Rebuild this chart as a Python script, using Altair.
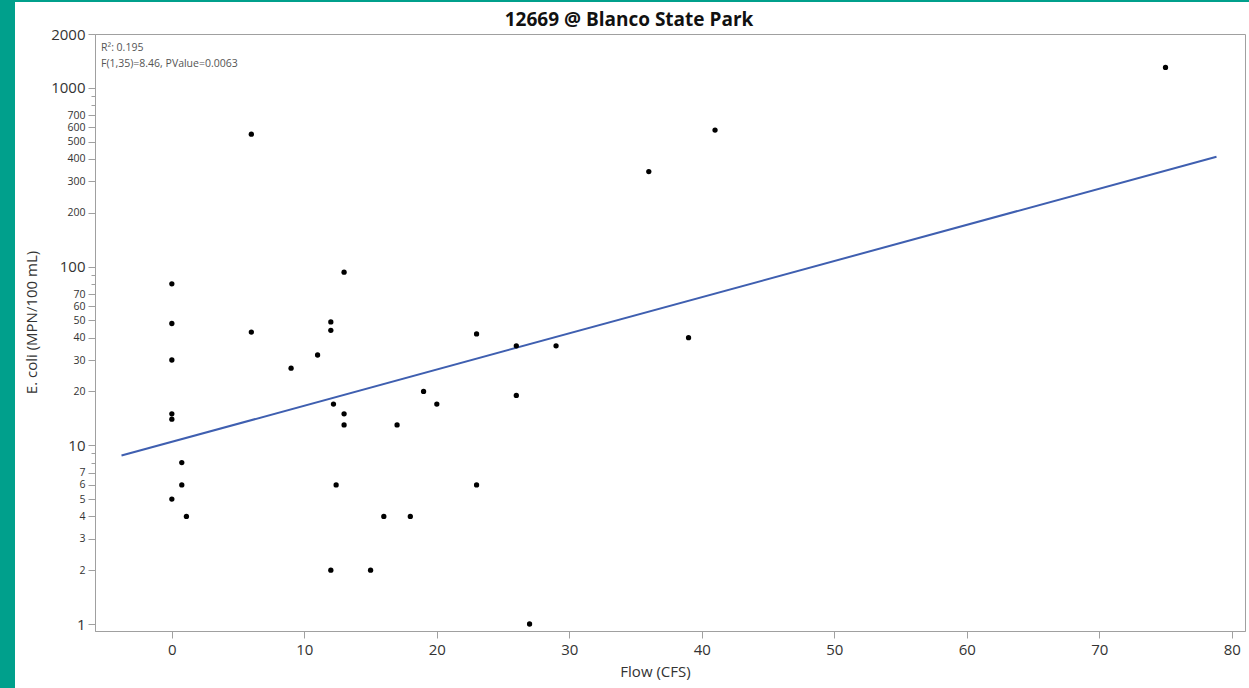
import altair as alt
import pandas as pd

flow = [0, 0, 0, 0, 0, 0.75, 0.75, 0, 1.1, 6, 6, 9, 11, 12, 12, 13, 12.2, 13, 13, 17,
        12.4, 12, 15, 16, 18, 19, 20, 23, 23, 26, 26, 29, 27, 36, 39, 41, 75]
ecoli = [80, 48, 30, 15, 14, 8, 6, 5, 4, 550, 43, 27, 32, 49, 44, 93, 17, 15, 13, 13,
         6, 2, 2, 4, 4, 20, 17, 42, 6, 36, 19, 36, 1, 340, 40, 580, 1300]

x_ticks = [0, 10, 20, 30, 40, 50, 60, 70, 80]
y_ticks = [1, 2, 3, 4, 5, 6, 7, 8, 9, 10, 20, 30, 40, 50, 60, 70, 80, 90,
           100, 200, 300, 400, 500, 600, 700, 800, 900, 1000, 2000]
fit_extent = [-3.8, 78.85]
stats_text = "R\u00b2: 0.195\nF(1,35)=8.46, PValue=0.0063"
title_text = "12669 @ Blanco State Park"

df = pd.DataFrame({"flow": flow, "ecoli": ecoli})

FONT = "Open Sans"
GRAY = "#A0A0A0"
TEAL = "#00A08C"

W, H = 1150, 597

xscale = alt.Scale(domain=[-5.8, 81], nice=False, zero=False)
yscale = alt.Scale(type="log", domain=[0.914, 2000], nice=False)

major_test = "datum.value==1||datum.value==10||datum.value==100||datum.value==1000||datum.value==2000"
unlab_test = "indexof([8,9,80,90,800,900], datum.value) >= 0"

xaxis = alt.Axis(values=x_ticks, title="Flow (CFS)", grid=False, labelFontSize=15,
                 labelFont=FONT, labelColor="#333333", titleFont=FONT, titleFontSize=15,
                 titleFontWeight="normal", titleColor="#333333", domainColor=GRAY,
                 tickColor=GRAY, tickSize=7, labelPadding=4, titleX=560, titleY=45,
                 titleBaseline="alphabetic", zindex=1)

yaxis = alt.Axis(values=y_ticks, title="E. coli (MPN/100 mL)", grid=False,
                 labelExpr=unlab_test + " ? '' : format(datum.value, 'd')",
                 labelOverlap=False, labelFont=FONT, labelColor="#333333",
                 labelFontSize={"condition": {"test": major_test, "value": 15}, "value": 10.5},
                 tickSize={"condition": {"test": unlab_test, "value": 4}, "value": 7},
                 labelPadding=3, labelBound=False, labelFlush=False,
                 titleFont=FONT, titleFontSize=15, titleFontWeight="normal",
                 titleColor="#333333", titleX=-59, titleY=288, titleAngle=-90,
                 titleBaseline="alphabetic", domainColor=GRAY, tickColor=GRAY, zindex=1)

one = pd.DataFrame({"a": [0]})

left_strip = alt.Chart(one).mark_rect(color=TEAL).encode(
    x=alt.value(-95), x2=alt.value(-80), y=alt.value(-34), y2=alt.value(H + 57))
top_strip = alt.Chart(one).mark_rect(color=TEAL).encode(
    x=alt.value(-95), x2=alt.value(W + 4), y=alt.value(-34), y2=alt.value(-32))

points = alt.Chart(df).mark_circle(size=28, color="black", opacity=1).encode(
    x=alt.X("flow:Q", scale=xscale, axis=xaxis),
    y=alt.Y("ecoli:Q", scale=yscale, axis=yaxis),
)

fit = alt.Chart(df).transform_calculate(
    ly="log(datum.ecoli)/LN10"
).transform_regression(
    "flow", "ly", extent=fit_extent
).transform_calculate(
    fit="pow(10, datum.ly)"
).mark_line(color="#3F5FB0", strokeWidth=2).encode(
    x=alt.X("flow:Q", scale=xscale),
    y=alt.Y("fit:Q", scale=yscale),
)

stats = alt.Chart(one).mark_text(
    text=stats_text, lineBreak="\n", align="left", baseline="top", font=FONT,
    fontSize=10.5, color="#555555", lineHeight=16
).encode(x=alt.value(6), y=alt.value(9))

title = alt.Chart(one).mark_text(
    text=title_text, align="center", baseline="alphabetic", font=FONT,
    fontSize=19, fontWeight="bold", color="#111111"
).encode(x=alt.value(534), y=alt.value(-8))

chart = alt.layer(left_strip, top_strip, fit, points, stats, title).properties(
    width=W, height=H,
    autosize=alt.AutoSizeParams(type="none"),
    padding={"left": 95, "top": 34, "right": 4, "bottom": 57},
    background="white",
).configure_view(stroke=GRAY, strokeWidth=1)

chart.save("out.html", embed_options={"renderer": "svg", "actions": False})
